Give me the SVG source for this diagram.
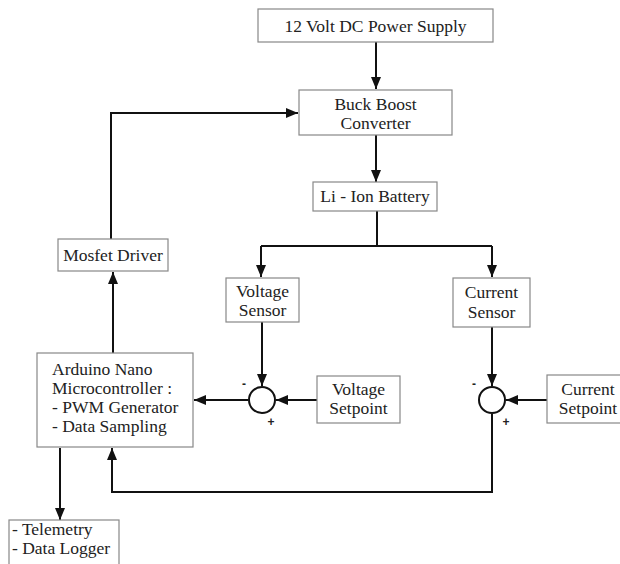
<svg xmlns="http://www.w3.org/2000/svg" width="620" height="564" viewBox="0 0 620 564">
<defs>
<marker id="ah" viewBox="0 0 12 10" refX="12" refY="5" markerWidth="12" markerHeight="10" markerUnits="userSpaceOnUse" orient="auto">
<path d="M0,0 L12,5 L0,10 Z" fill="#111"/>
</marker>
<style>
.box{fill:#fff;stroke:#888;stroke-width:1.2}
.t{font-family:"Liberation Serif","Times New Roman",serif;font-size:17.5px;fill:#222;text-anchor:middle}
.tl{font-family:"Liberation Serif","Times New Roman",serif;font-size:17.5px;fill:#222}
.c{fill:none;stroke:#111;stroke-width:2}
.sum{fill:#fff;stroke:#111;stroke-width:2}
.sg{font-family:"Liberation Sans",Arial,sans-serif;font-size:12px;font-weight:bold;fill:#222;text-anchor:middle}
</style>
</defs>
<rect width="620" height="564" fill="#fff"/>
<g id="connectors">
<path class="c" d="M376,42 V89" marker-end="url(#ah)"/>
<path class="c" d="M376,135 V182" marker-end="url(#ah)"/>
<path class="c" d="M377,211 V246"/>
<path class="c" d="M261,246 H492"/>
<path class="c" d="M261,246 V277" marker-end="url(#ah)"/>
<path class="c" d="M492,246 V277" marker-end="url(#ah)"/>
<path class="c" d="M262,322 V386" marker-end="url(#ah)"/>
<path class="c" d="M492,327 V386" marker-end="url(#ah)"/>
<path class="c" d="M317,400 H276" marker-end="url(#ah)"/>
<path class="c" d="M547,400 H506" marker-end="url(#ah)"/>
<path class="c" d="M248,400 H194" marker-end="url(#ah)"/>
<path class="c" d="M492,414 V492 H112 V448" marker-end="url(#ah)"/>
<path class="c" d="M60,448 V520" marker-end="url(#ah)"/>
<path class="c" d="M113,353 V272" marker-end="url(#ah)"/>
<path class="c" d="M111,239 V113 H298" marker-end="url(#ah)"/>
</g>
<g id="power">
<rect class="box" x="258" y="9" width="235" height="33"/>
<text class="t" x="375.5" y="32">12 Volt DC Power Supply</text>
</g>
<g id="buckboost">
<rect class="box" x="299" y="90" width="153" height="45"/>
<text class="t" x="375.5" y="110">Buck Boost</text>
<text class="t" x="375.5" y="129">Converter</text>
</g>
<g id="battery">
<rect class="box" x="313" y="182" width="124" height="29"/>
<text class="t" x="375" y="202">Li - Ion Battery</text>
</g>
<g id="vsensor">
<rect class="box" x="226" y="278" width="73" height="44"/>
<text class="t" x="262.5" y="297">Voltage</text>
<text class="t" x="262.5" y="316">Sensor</text>
</g>
<g id="csensor">
<rect class="box" x="453" y="278" width="77" height="49"/>
<text class="t" x="491.5" y="298">Current</text>
<text class="t" x="491.5" y="318">Sensor</text>
</g>
<g id="vsum">
<circle class="sum" cx="262" cy="400" r="13"/>
<text class="sg" x="244" y="388">-</text>
<text class="sg" x="271" y="426">+</text>
</g>
<g id="csum">
<circle class="sum" cx="492" cy="400" r="13"/>
<text class="sg" x="474" y="388">-</text>
<text class="sg" x="506" y="426">+</text>
</g>
<g id="vsetpoint">
<rect class="box" x="317" y="376" width="83" height="47"/>
<text class="t" x="358.5" y="395">Voltage</text>
<text class="t" x="358.5" y="414">Setpoint</text>
</g>
<g id="csetpoint">
<rect class="box" x="547" y="375" width="80" height="48"/>
<text class="t" x="588" y="395">Current</text>
<text class="t" x="588" y="414">Setpoint</text>
</g>
<g id="mosfet">
<rect class="box" x="58" y="239" width="110" height="32"/>
<text class="t" x="113" y="261">Mosfet Driver</text>
</g>
<g id="arduino">
<rect class="box" x="37" y="353" width="156" height="94"/>
<text class="tl" x="52" y="375">Arduino Nano</text>
<text class="tl" x="52" y="394">Microcontroller :</text>
<text class="tl" x="52" y="413">- PWM Generator</text>
<text class="tl" x="52" y="432">- Data Sampling</text>
</g>
<g id="telemetry">
<rect class="box" x="9" y="520" width="110" height="60"/>
<text class="tl" x="12" y="535">- Telemetry</text>
<text class="tl" x="12" y="554">- Data Logger</text>
</g>
</svg>
